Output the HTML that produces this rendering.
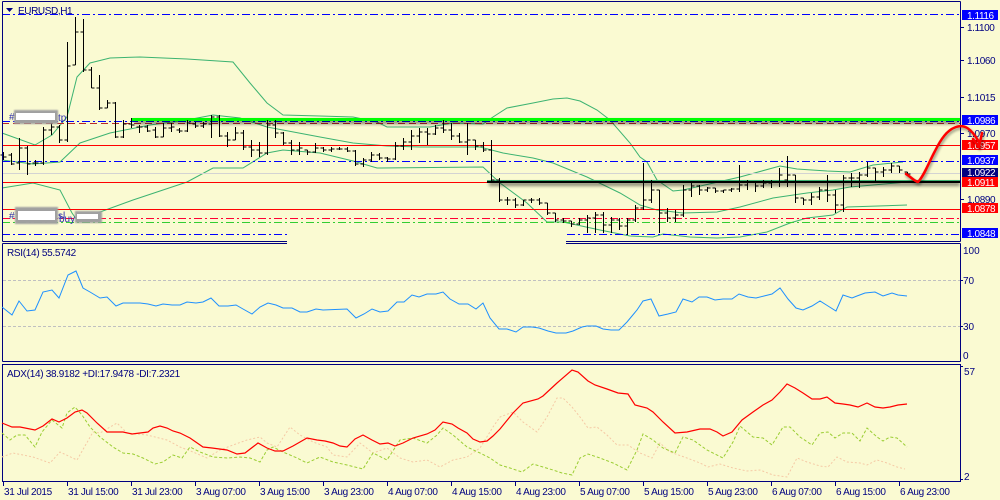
<!DOCTYPE html>
<html><head><meta charset="utf-8"><style>
html,body{margin:0;padding:0;background:#FAFAD2;}
svg{display:block;}
text{font-family:"Liberation Sans",sans-serif;font-size:10px;}
</style></head><body>
<svg width="1000" height="500" viewBox="0 0 1000 500" xmlns="http://www.w3.org/2000/svg">
<defs>
<filter id="sh" x="-10%" y="-200%" width="120%" height="500%"><feGaussianBlur stdDeviation="1.6"/></filter>
<filter id="sh2" x="-50%" y="-50%" width="200%" height="200%"><feGaussianBlur stdDeviation="1.2"/></filter>
<filter id="sh3" x="-50%" y="-50%" width="200%" height="200%"><feGaussianBlur stdDeviation="0.7"/></filter>
</defs>
<rect x="0" y="0" width="1000" height="500" fill="#FAFAD2"/>

<!-- Bollinger bands -->
<g fill="none" stroke="#3CB371" stroke-width="1">
<polyline points="2,133 35,145 52,135 67,117 77,77 90,63 110,58 140,57 187,59 233,62 250,83 267,103 283,115 320,116 353,117 377,122 387,127 430,127 453,123 483,124 493,117 507,108 533,103 553,99 567,98 580,101 597,110 610,120 630,143 640,157 647,162 657,180 673,191 683,190 740,177 780,166 797,169 827,171 850,172 873,165 903,162"/>
<polyline points="2,160 33,164 60,162 80,143 110,133 150,125 187,120 213,115 240,118 267,127 320,137 353,143 387,146 420,147 480,147 503,153 533,158 553,163 587,177 620,193 640,205 657,210 683,213 717,212 740,207 773,198 807,193 833,190 850,187 873,185 907,182"/>
<polyline points="2,188 33,183 60,190 72,213 77,220 100,212 133,200 187,182 213,168 243,168 267,153 283,150 320,153 353,161 377,168 483,167 500,183 527,203 547,222 563,222 600,230 630,236 653,237 663,234 690,237 717,238 740,237 767,232 790,223 807,218 833,215 847,207 907,205"/>
</g>

<!-- horizontal lines -->
<g shape-rendering="crispEdges" fill="none">
<line x1="2" y1="14.5" x2="960" y2="14.5" stroke="#0000FF" stroke-dasharray="8,3,2,3"/>
<line x1="2" y1="121.5" x2="960" y2="121.5" stroke="#0000FF" stroke-dasharray="8,3,2,3"/>
<line x1="2" y1="123.5" x2="960" y2="123.5" stroke="#B82828" stroke-dasharray="7,4"/>
<line x1="2" y1="145.5" x2="960" y2="145.5" stroke="#FF0000"/>
<line x1="2" y1="161.5" x2="960" y2="161.5" stroke="#0000FF" stroke-dasharray="8,3,2,3"/>
<line x1="2" y1="173.5" x2="960" y2="173.5" stroke="#D3D3D3"/>
<line x1="2" y1="182.5" x2="487" y2="182.5" stroke="#FF0000"/>
<line x1="2" y1="209.5" x2="960" y2="209.5" stroke="#FF0000"/>
<line x1="2" y1="218.5" x2="960" y2="218.5" stroke="#FF0033" stroke-dasharray="8,3,2,3"/>
<line x1="2" y1="222.5" x2="960" y2="222.5" stroke="#32CD32" stroke-dasharray="8,3,2,3"/>
<line x1="2" y1="234.5" x2="287" y2="234.5" stroke="#0000FF" stroke-dasharray="8,3,2,3"/>
<line x1="567" y1="234.5" x2="960" y2="234.5" stroke="#0000FF" stroke-dasharray="8,3,2,3"/>
</g>

<!-- thick lines with shadows -->
<rect x="134" y="120" width="826" height="4" fill="#000" opacity="0.45" filter="url(#sh)"/>
<rect x="132" y="118" width="828" height="3" fill="#00FF00"/>
<rect x="489" y="182" width="471" height="4" fill="#000" opacity="0.45" filter="url(#sh)"/>
<rect x="487" y="180" width="473" height="1" fill="#3CB371"/>
<rect x="487" y="181" width="473" height="2" fill="#000"/>

<!-- bars -->
<path shape-rendering="crispEdges" fill="none" stroke="#000" stroke-width="1" d="M3.5 152V160M0.5 155h3M3.5 157h3M11.5 153V165M8.5 155h3M11.5 164h3M19.5 138V170M16.5 163h3M19.5 148h3M27.5 146V175M24.5 148h3M27.5 164h3M35.5 160V166M32.5 163h3M35.5 163h3M43.5 127V165M40.5 163h3M43.5 130h3M51.5 122V135M48.5 130h3M51.5 127h3M59.5 125V143M56.5 127h3M59.5 140h3M67.5 42V142M64.5 140h3M67.5 66h3M75.5 17V65M72.5 65h3M75.5 32h3M83.5 19V72M80.5 32h3M83.5 70h3M91.5 67V88M88.5 70h3M91.5 88h3M99.5 75V110M96.5 88h3M99.5 108h3M107.5 100V108M104.5 108h3M107.5 103h3M115.5 102V138M112.5 103h3M115.5 137h3M123.5 120V138M120.5 137h3M123.5 124h3M131.5 118V128M128.5 124h3M131.5 125h3M139.5 125V133M136.5 127h3M139.5 127h3M147.5 125V132M144.5 127h3M147.5 131h3M155.5 127V138M152.5 130h3M155.5 137h3M163.5 123V137M160.5 137h3M163.5 128h3M171.5 123V132M168.5 128h3M171.5 127h3M179.5 128V133M176.5 130h3M179.5 131h3M187.5 120V132M184.5 131h3M187.5 123h3M195.5 122V128M192.5 124h3M195.5 126h3M203.5 122V128M200.5 126h3M203.5 124h3M211.5 115V138M208.5 124h3M211.5 117h3M219.5 115V137M216.5 117h3M219.5 136h3M227.5 132V147M224.5 136h3M227.5 140h3M235.5 127V140M232.5 140h3M235.5 133h3M243.5 130V150M240.5 133h3M243.5 147h3M251.5 140V157M248.5 147h3M251.5 150h3M259.5 142V157M256.5 150h3M259.5 153h3M267.5 120V155M264.5 153h3M267.5 125h3M275.5 120V138M272.5 125h3M275.5 133h3M283.5 132V145M280.5 133h3M283.5 143h3M291.5 140V155M288.5 143h3M291.5 150h3M299.5 142V155M296.5 150h3M299.5 148h3M307.5 150V155M304.5 150h3M307.5 152h3M315.5 143V153M312.5 152h3M315.5 148h3M323.5 147V152M320.5 148h3M323.5 150h3M331.5 147V152M328.5 150h3M331.5 149h3M339.5 147V150M336.5 149h3M339.5 149h3M347.5 147V152M344.5 149h3M347.5 151h3M355.5 150V166M352.5 151h3M355.5 164h3M363.5 158V167M360.5 164h3M363.5 160h3M371.5 152V162M368.5 160h3M371.5 155h3M379.5 153V160M376.5 155h3M379.5 158h3M387.5 157V162M384.5 158h3M387.5 159h3M395.5 142V160M392.5 159h3M395.5 146h3M403.5 138V150M400.5 146h3M403.5 142h3M411.5 130V150M408.5 142h3M411.5 136h3M419.5 128V143M416.5 136h3M419.5 132h3M427.5 128V145M424.5 132h3M427.5 134h3M435.5 125V135M432.5 134h3M435.5 128h3M443.5 120V133M440.5 128h3M443.5 130h3M451.5 123V140M448.5 130h3M451.5 136h3M459.5 133V143M456.5 136h3M459.5 142h3M467.5 123V155M464.5 142h3M467.5 140h3M475.5 140V150M472.5 140h3M475.5 146h3M483.5 142V152M480.5 146h3M483.5 150h3M491.5 140V182M488.5 150h3M491.5 180h3M499.5 178V202M496.5 180h3M499.5 200h3M507.5 197V205M504.5 200h3M507.5 200h3M515.5 198V208M512.5 200h3M515.5 205h3M523.5 200V206M520.5 205h3M523.5 200h3M531.5 198V203M528.5 200h3M531.5 200h3M539.5 198V205M536.5 200h3M539.5 203h3M547.5 203V215M544.5 203h3M547.5 213h3M555.5 213V222M552.5 213h3M555.5 220h3M563.5 218V223M560.5 220h3M563.5 221h3M571.5 221V227M568.5 221h3M571.5 224h3M579.5 218V225M576.5 224h3M579.5 220h3M587.5 215V233M584.5 220h3M587.5 218h3M595.5 212V233M592.5 218h3M595.5 215h3M603.5 212V233M600.5 215h3M603.5 225h3M611.5 217V233M608.5 225h3M611.5 220h3M619.5 218V230M616.5 220h3M619.5 226h3M627.5 218V235M624.5 226h3M627.5 220h3M635.5 205V222M632.5 220h3M635.5 208h3M643.5 163V210M640.5 208h3M643.5 200h3M651.5 180V203M648.5 200h3M651.5 190h3M659.5 190V233M656.5 190h3M659.5 213h3M667.5 208V222M664.5 213h3M667.5 218h3M675.5 210V222M672.5 218h3M675.5 215h3M683.5 185V217M680.5 215h3M683.5 190h3M691.5 182V197M688.5 190h3M691.5 186h3M699.5 185V195M696.5 186h3M699.5 190h3M707.5 187V192M704.5 190h3M707.5 188h3M715.5 188V193M712.5 188h3M715.5 191h3M723.5 190V193M720.5 191h3M723.5 190h3M731.5 188V192M728.5 190h3M731.5 189h3M739.5 165V192M736.5 189h3M739.5 185h3M747.5 180V190M744.5 185h3M747.5 182h3M755.5 182V192M752.5 182h3M755.5 186h3M763.5 180V188M760.5 186h3M763.5 183h3M771.5 180V188M768.5 183h3M771.5 182h3M779.5 168V187M776.5 182h3M779.5 175h3M787.5 156V187M784.5 180h3M787.5 175h3M795.5 175V203M792.5 175h3M795.5 198h3M803.5 198V205M800.5 198h3M803.5 200h3M811.5 193V205M808.5 200h3M811.5 197h3M819.5 187V200M816.5 197h3M819.5 190h3M827.5 175V202M824.5 190h3M827.5 195h3M835.5 190V213M832.5 195h3M835.5 205h3M843.5 175V212M840.5 205h3M843.5 178h3M851.5 173V187M848.5 178h3M851.5 178h3M859.5 172V188M856.5 178h3M859.5 175h3M867.5 162V177M864.5 175h3M867.5 168h3M875.5 168V182M872.5 168h3M875.5 172h3M883.5 167V177M880.5 172h3M883.5 170h3M891.5 163V173M888.5 170h3M891.5 166h3M899.5 166V173M896.5 166h3M899.5 170h3M907.5 172V175M904.5 172h3M907.5 174h3"/>

<!-- order labels -->
<text x="9" y="120" fill="#3030B0">#</text>
<text x="58" y="121" fill="#3030B0">tp</text>
<rect x="14" y="110" width="44" height="14" fill="#A0A0A0" filter="url(#sh3)"/>
<rect x="16" y="113" width="39" height="7" fill="#FFFFFF"/>
<text x="9" y="219" fill="#3030B0">#</text>
<text x="58" y="219" fill="#3030B0">sl</text>
<text x="59" y="222" fill="#3030B0">buy</text>
<rect x="15" y="207" width="43" height="17" fill="#A0A0A0" filter="url(#sh3)"/>
<rect x="18" y="211" width="37" height="9" fill="#FFFFFF"/>
<rect x="75" y="211" width="27" height="12" fill="#A0A0A0" filter="url(#sh3)"/>
<rect x="77" y="214" width="21" height="5" fill="#FFFFFF"/>

<!-- title -->
<polygon points="6,8 13,8 9.5,12" fill="#000080"/>
<text x="18" y="14" fill="#000080" letter-spacing="-0.4">EURUSD,H1</text>

<!-- panel frames -->
<g shape-rendering="crispEdges" stroke="#000080" fill="none" stroke-width="1">
<line x1="2.5" y1="1.5" x2="960.5" y2="1.5"/>
<line x1="2.5" y1="1.5" x2="2.5" y2="241.5"/>
<line x1="960.5" y1="1.5" x2="960.5" y2="241.5"/>
<line x1="2.5" y1="241.5" x2="287" y2="241.5"/>
<line x1="566" y1="241.5" x2="960.5" y2="241.5"/>
<line x1="2.5" y1="243.5" x2="287" y2="243.5"/>
<line x1="566" y1="243.5" x2="960.5" y2="243.5"/>
<line x1="2.5" y1="243.5" x2="2.5" y2="361.5"/>
<line x1="960.5" y1="243.5" x2="960.5" y2="361.5"/>
<line x1="2.5" y1="361.5" x2="960.5" y2="361.5"/>
<rect x="2.5" y="364.5" width="958" height="117"/>
</g>

<!-- right axis main -->
<g shape-rendering="crispEdges" stroke="#000080">
<line x1="960" y1="27.5" x2="964" y2="27.5"/>
<line x1="960" y1="60.5" x2="964" y2="60.5"/>
<line x1="960" y1="97.5" x2="964" y2="97.5"/>
<line x1="960" y1="133.5" x2="964" y2="133.5"/>
<line x1="960" y1="199.5" x2="964" y2="199.5"/>
</g>
<g fill="#000080" letter-spacing="-0.4">
<text x="967" y="31">1.1100</text>
<text x="967" y="64">1.1060</text>
<text x="967" y="101">1.1015</text>
<text x="967" y="137">1.0970</text>
<text x="967" y="203">1.0890</text>
</g>
<g shape-rendering="crispEdges">
<rect x="962" y="10" width="36" height="10" fill="#0000FF"/>
<rect x="962" y="115" width="36" height="10" fill="#0000FF"/>
<rect x="962" y="140" width="36" height="10" fill="#FF0000"/>
<rect x="962" y="155" width="36" height="10" fill="#0000FF"/>
<rect x="962" y="168" width="36" height="9" fill="#000080"/>
<rect x="962" y="177" width="36" height="10" fill="#FF0000"/>
<rect x="962" y="203" width="36" height="10" fill="#FF0000"/>
<rect x="962" y="228" width="36" height="10" fill="#0000FF"/>
</g>
<g fill="#FFFFFF" letter-spacing="-0.4">
<text x="967" y="19">1.1116</text>
<text x="967" y="124">1.0986</text>
<text x="967" y="149">1.0957</text>
<text x="967" y="164">1.0937</text>
<text x="967" y="176">1.0922</text>
<text x="967" y="186">1.0911</text>
<text x="967" y="212">1.0878</text>
<text x="967" y="237">1.0848</text>
</g>

<!-- red arrow -->
<g fill="none" stroke-linecap="round" stroke-linejoin="round">
<path d="M906,174 C911,177 914,181 918,182 C924,176 929,162 935,151 C941,139 947,130 956,127 C964,124 971,128 979,142" stroke="#000" stroke-width="3" opacity="0.35" filter="url(#sh2)" transform="translate(1,2)"/>
<path d="M973,139 L979,147 L982,133" stroke="#000" stroke-width="3" opacity="0.35" filter="url(#sh2)" transform="translate(1,2)"/>
<path d="M906,174 C911,177 914,181 918,182 C924,176 929,162 935,151 C941,139 947,130 956,127 C964,124 971,128 979,142" stroke="#FF0000" stroke-width="2.5"/>
<path d="M973,139 L979,147 L982,133" stroke="#FF0000" stroke-width="2.5"/>
</g>

<!-- RSI panel -->
<text x="7" y="256" fill="#000080" letter-spacing="-0.3">RSI(14) 55.5742</text>
<g shape-rendering="crispEdges" stroke="#C0C0C0" stroke-dasharray="3,2">
<line x1="3" y1="280.5" x2="960" y2="280.5"/>
<line x1="3" y1="326.5" x2="960" y2="326.5"/>
</g>
<polyline fill="none" stroke="#1E90FF" stroke-width="1" points="2,307 12,315 19,301 27,311 35,310 43,292 52,290 59,298 68,275 76,271 83,288 90,292 100,298 107,297 116,306 123,303 140,303 148,304 156,306 163,304 172,305 180,305 187,302 196,303 203,302 211,298 219,306 228,306 236,305 243,309 252,314 260,307 268,303 276,305 283,308 292,308 300,312 307,312 316,309 323,310 347,309 356,318 364,314 372,309 380,312 388,311 397,302 404,302 412,295 419,297 427,294 436,294 443,292 450,299 459,304 468,304 476,309 483,303 490,318 499,329 507,329 516,332 523,327 532,327 539,328 548,331 556,333 566,333 573,331 582,327 587,326 596,326 603,329 611,330 619,330 627,322 637,310 643,301 651,299 659,316 668,314 676,312 683,299 692,302 699,297 707,297 715,300 723,299 732,299 739,294 748,297 756,298 764,296 772,294 780,288 788,299 796,308 803,310 812,306 820,301 828,306 836,311 843,295 852,298 857,296 865,293 875,292 883,296 892,293 898,295 907,296"/>
<g shape-rendering="crispEdges" stroke="#000080">
<line x1="960" y1="280.5" x2="963" y2="280.5"/>
<line x1="960" y1="326.5" x2="963" y2="326.5"/>
</g>
<g fill="#000080">
<text x="963" y="254">100</text>
<text x="963" y="284">70</text>
<text x="963" y="330">30</text>
<text x="963" y="359">0</text>
</g>

<!-- ADX panel -->
<text x="7" y="377" fill="#000080" letter-spacing="-0.3">ADX(14) 38.9182 +DI:17.9478 -DI:7.2321</text>
<polyline fill="none" stroke="#F5C9A5" stroke-width="1" stroke-dasharray="2,2" points="2,457 13,453 33,457 50,463 60,452 77,460 93,432 100,433 117,423 127,433 147,435 167,440 180,447 193,452 207,458 220,450 233,445 247,440 260,437 267,443 277,447 290,427 300,435 313,442 327,447 333,455 347,457 360,443 373,453 387,448 400,458 413,462 427,460 440,467 453,460 467,457 480,448 493,427 500,417 513,412 523,422 537,432 547,417 557,398 563,398 572,407 580,417 588,428 597,427 607,435 617,445 628,445 640,453 652,458 660,443 670,452 687,458 700,463 708,467 720,464 733,468 747,471 760,470 773,475 787,477 797,458 807,462 820,466 828,467 837,457 847,462 860,463 867,465 877,460 887,463 897,467 905,469"/>
<polyline fill="none" stroke="#9ACD32" stroke-width="1" stroke-dasharray="3,2" points="2,433 10,440 17,435 25,435 35,447 42,432 52,420 62,428 67,413 75,407 82,415 90,427 100,437 113,447 123,453 133,454 143,458 155,464 163,462 173,455 182,458 190,447 200,452 213,457 227,458 240,457 250,458 260,462 267,450 273,447 283,452 297,458 307,463 320,457 333,462 347,465 363,469 373,453 387,460 400,440 413,438 427,443 437,435 443,428 453,435 467,447 480,453 490,458 500,465 510,468 522,472 533,464 543,467 553,470 562,473 572,475 580,458 588,454 600,458 613,463 627,470 637,450 643,434 653,440 663,448 675,453 683,437 693,440 707,450 723,458 733,442 740,426 753,437 763,438 772,445 783,427 790,427 800,437 812,445 820,433 828,432 835,438 843,433 852,433 860,441 867,428 877,437 883,441 890,437 897,438 907,447"/>
<polyline fill="none" stroke="#FF0000" stroke-width="1.2" points="2,423 12,427 20,427 35,430 43,426 52,419 59,422 67,418 75,412 82,410 87,413 97,423 107,432 123,432 132,434 140,433 148,432 153,428 160,426 167,428 173,431 180,433 190,438 203,447 212,448 227,450 237,454 245,453 258,443 267,448 275,451 283,451 293,446 307,438 317,440 325,441 333,443 340,446 347,447 355,439 363,435 372,440 380,444 388,443 395,446 403,443 413,438 427,434 435,430 443,422 452,424 458,428 467,433 473,439 480,442 487,441 493,436 500,429 513,413 523,403 538,399 543,396 557,383 572,370 578,372 588,381 595,385 607,389 618,393 628,394 635,405 647,408 653,412 663,422 675,433 687,432 700,429 710,429 717,432 723,436 732,432 742,420 753,412 763,405 772,400 780,392 787,384 795,388 803,393 812,399 820,399 827,397 835,403 843,404 850,405 858,407 867,403 875,407 883,408 890,407 898,405 907,404"/>
<g shape-rendering="crispEdges" stroke="#000080">
<line x1="960" y1="366.5" x2="963" y2="366.5"/>
<line x1="960" y1="479.5" x2="963" y2="479.5"/>
</g>
<g fill="#000080">
<text x="964" y="375">57</text>
<text x="964" y="480">2</text>
</g>

<!-- time axis -->
<g shape-rendering="crispEdges" stroke="#000080">
<line x1="3.5" y1="482" x2="3.5" y2="486"/>
<line x1="67.5" y1="482" x2="67.5" y2="486"/>
<line x1="131.5" y1="482" x2="131.5" y2="486"/>
<line x1="195.5" y1="482" x2="195.5" y2="486"/>
<line x1="259.5" y1="482" x2="259.5" y2="486"/>
<line x1="323.5" y1="482" x2="323.5" y2="486"/>
<line x1="387.5" y1="482" x2="387.5" y2="486"/>
<line x1="451.5" y1="482" x2="451.5" y2="486"/>
<line x1="515.5" y1="482" x2="515.5" y2="486"/>
<line x1="579.5" y1="482" x2="579.5" y2="486"/>
<line x1="643.5" y1="482" x2="643.5" y2="486"/>
<line x1="707.5" y1="482" x2="707.5" y2="486"/>
<line x1="771.5" y1="482" x2="771.5" y2="486"/>
<line x1="835.5" y1="482" x2="835.5" y2="486"/>
<line x1="899.5" y1="482" x2="899.5" y2="486"/>
</g>
<g fill="#000080" letter-spacing="-0.35">
<text x="4" y="495">31 Jul 2015</text>
<text x="68" y="495">31 Jul 15:00</text>
<text x="132" y="495">31 Jul 23:00</text>
<text x="196" y="495">3 Aug 07:00</text>
<text x="260" y="495">3 Aug 15:00</text>
<text x="324" y="495">3 Aug 23:00</text>
<text x="388" y="495">4 Aug 07:00</text>
<text x="452" y="495">4 Aug 15:00</text>
<text x="516" y="495">4 Aug 23:00</text>
<text x="580" y="495">5 Aug 07:00</text>
<text x="644" y="495">5 Aug 15:00</text>
<text x="708" y="495">5 Aug 23:00</text>
<text x="772" y="495">6 Aug 07:00</text>
<text x="836" y="495">6 Aug 15:00</text>
<text x="900" y="495">6 Aug 23:00</text>
</g>
</svg>
</body></html>
